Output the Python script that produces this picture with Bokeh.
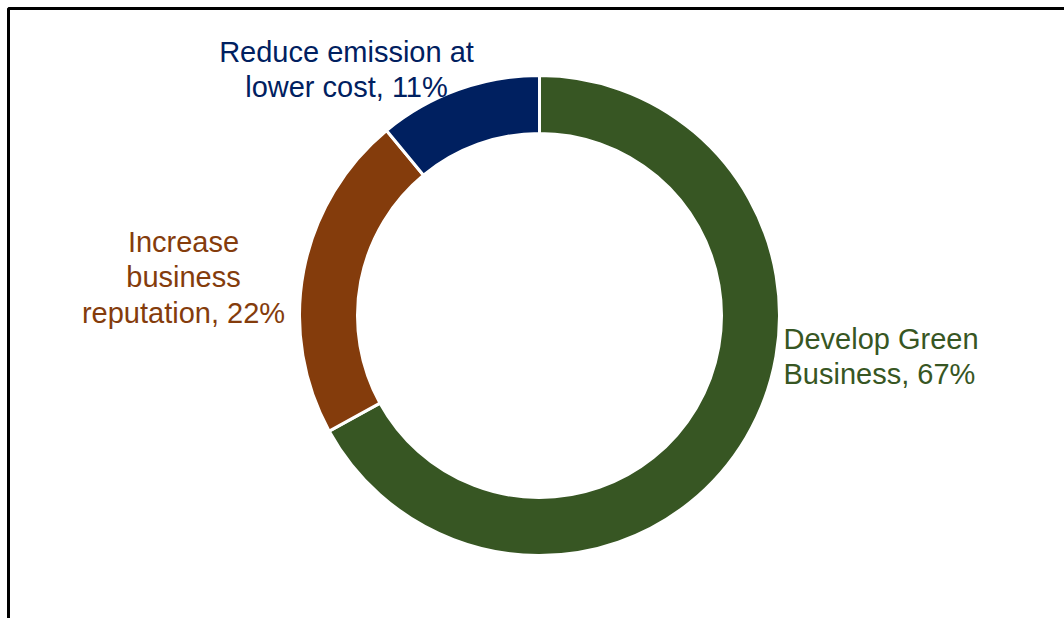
import math
from bokeh.plotting import figure
from bokeh.models import Range1d, ColumnDataSource, BoxAnnotation
from bokeh.core.properties import value
from bokeh.embed import file_html
from bokeh.resources import INLINE

# ---- data ----
categories = ["Develop Green Business", "Increase business reputation", "Reduce emission at lower cost"]
shares = [67, 22, 11]
labels = ["Develop Green\nBusiness, 67%", "Increase\nbusiness\nreputation, 22%", "Reduce emission at\nlower cost, 11%"]
colors = ["#375623", "#843C0C", "#002060"]

W, H = 1064, 618
p = figure(width=W, height=H, output_backend="svg", toolbar_location=None,
           x_range=Range1d(0, W), y_range=Range1d(0, H), min_border=0)
p.axis.visible = False
p.grid.visible = False
p.outline_line_color = None
p.background_fill_color = "white"
p.border_fill_color = "white"

# donut geometry (pixel-like data space, y up)
cx, cy = 539, H - 315
r_in, r_out = 182, 240

total = sum(shares)
starts, ends = [], []
cum = 0.0
for s in shares:
    a0 = math.pi / 2 - 2 * math.pi * (cum + s) / total
    a1 = math.pi / 2 - 2 * math.pi * cum / total
    starts.append(a0)
    ends.append(a1)
    cum += s

src = ColumnDataSource(dict(x=[cx] * 3, y=[cy] * 3, start=starts, end=ends, color=colors, cat=categories))
p.annular_wedge(x="x", y="y", inner_radius=r_in, outer_radius=r_out,
                start_angle="start", end_angle="end", fill_color="color",
                line_color="white", line_width=3, source=src)

# labels
lab_x = [783, 183, 346]
lab_y = [H - 356, H - 277, H - 69]
lab_align = ["left", "center", "center"]
lsrc = ColumnDataSource(dict(x=lab_x, y=lab_y, t=labels, c=colors, a=lab_align))
p.text(x="x", y="y", text="t", text_color="c", text_align="a", text_baseline="middle",
       text_font=value("Liberation Sans"), text_font_size="29px", text_line_height=1.12,
       source=lsrc)

# frame (top and left edges visible)
p.add_layout(BoxAnnotation(left=8, right=W + 50, top=H - 8, bottom=-50,
                           fill_alpha=0, line_color="black", line_alpha=1.0, line_width=3))

open("out.html", "w").write(file_html(p, INLINE))
